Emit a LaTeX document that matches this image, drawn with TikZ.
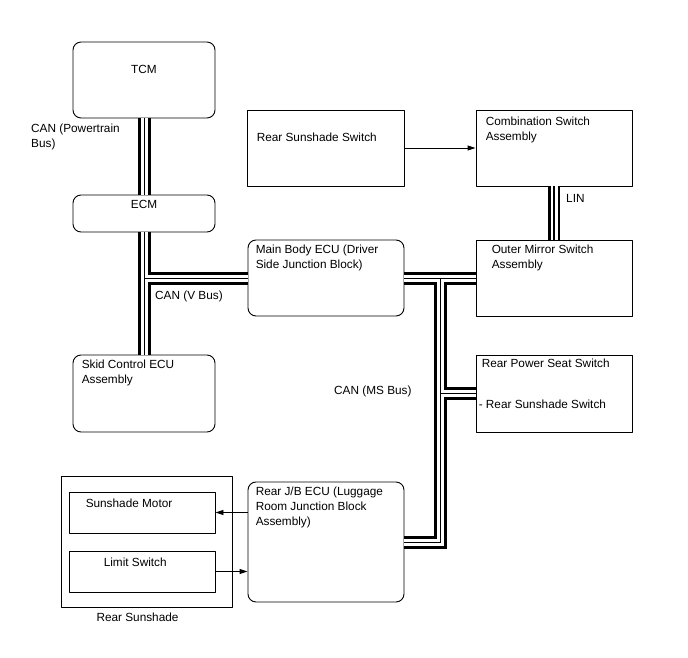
\documentclass[tikz,border=0pt]{standalone}
\usepackage{fontspec}
\setmainfont{Liberation Sans}
\usepackage{tikz}
\usetikzlibrary{arrows.meta,calc,positioning}
\tikzset{
  unit/.style={draw, line width=.9pt, inner sep=0pt},
  ecu/.style={unit, rounded corners=8pt},
  switchbox/.style={unit},
  boxsize/.style 2 args={minimum width=#1pt, minimum height=#2pt},
  txt/.style={font=\fontsize{11.8}{15}\selectfont, align=left,
    inner sep=0pt, anchor=base west},
  sig/.style={line width=.9pt, -{Triangle[length=8pt,width=5pt]}},
  buswire/.style={line cap=butt, line join=miter},
}

\begin{document}
\begin{tikzpicture}[x=1pt, y=-1pt, line cap=round, line join=round]
  \useasboundingbox (0,0) rectangle (688,658);

  % Powertrain and chassis ECUs on the left.
  \node[ecu, boxsize={142}{76}] (tcm) at (144,80) {};
  \node[ecu, boxsize={142}{37}] (ecm) at (144,213.5) {};
  \node[ecu, boxsize={142}{77}] (skid) at (144,393.5) {};

  % Body side: switches are square, ECUs rounded.
  \node[switchbox, boxsize={157}{76}] (rsswitch) at (325.5,148) {};
  \node[switchbox, boxsize={156}{76}] (combsw) at (554,148) {};
  \node[ecu, boxsize={156}{76}] (mbecu) at (326,278) {};
  \node[switchbox, boxsize={156}{76}] (mirror) at (554,278) {};
  \node[switchbox, boxsize={156}{77}] (seat) at (554,393.5) {};
  \node[ecu, boxsize={156}{120}] (rjb) at (326,542) {};

  % The sunshade frame holds its motor and limit switch.
  \node[switchbox, boxsize={171}{131}] (sunshade) at (146.5,541.5) {};
  \node[switchbox, boxsize={146}{41}] (motor) at (142,512.5) {};
  \node[switchbox, boxsize={146}{41}] (limit) at (142,571.5) {};

  % Every CAN wire gets its outer stroke first, then the white gap, then the
  % centre wire, so the branches merge into clean T-junctions.
  \coordinate (vjoint) at (ecm.south |- mbecu.west);
  \coordinate (msjoint) at ($(mbecu.east)!.5!(mirror.west)$);
  \foreach \buswidth/\buscolor in {13/black, 7/white, 1/black}{
    \draw[buswire, line width=\buswidth pt, color=\buscolor]
      (tcm.south) -- (ecm.north)
      (ecm.south) -- (skid.north)
      (vjoint) -- (mbecu.west)
      (mbecu.east) -- (mirror.west)
      (msjoint) -- (msjoint |- rjb.east) -- (rjb.east)
      (msjoint |- seat.west) -- (seat.west);
  }

  % The LIN wire has a heavier core.
  \foreach \buswidth/\buscolor in {12/black, 7/white, 2.5/black}{
    \draw[buswire, line width=\buswidth pt, color=\buscolor]
      (combsw.south) -- (mirror.north);
  }

  \draw[sig] (rsswitch.east) -- (combsw.west);
  \draw[sig] (rjb.west |- motor.east) -- (motor.east);
  \draw[sig] (limit.east) -- (rjb.west |- limit.east);

  % A multi-line node sits on the baseline of its last line.
  \node[txt, anchor=base] (tcmtext) at ($(tcm.north)+(0,32)$) {TCM};
  \node[txt, anchor=base] (ecmtext) at ($(ecm.north)+(0,14)$) {ECM};
  \node[txt] (skidtext) at ($(skid.north west)+(9,29)$)
    {Skid Control ECU\\Assembly};
  \node[txt] (rsswitchtext) at ($(rsswitch.north west)+(10,32)$)
    {Rear Sunshade Switch};
  \node[txt] (combswtext) at ($(combsw.north west)+(10,31)$)
    {Combination Switch\\Assembly};
  \node[txt] (mbecutext) at ($(mbecu.north west)+(8,29)$)
    {Main Body ECU (Driver\\Side Junction Block)};
  \node[txt] (mirrortext) at ($(mirror.north west)+(16,29)$)
    {Outer Mirror Switch\\Assembly};
  \node[txt] (seattext) at ($(seat.north west)+(6,13)$)
    {Rear Power Seat Switch};
  \node[txt] (seatsubtext) at ($(seat.north west)+(3,54)$)
    {- Rear Sunshade Switch};
  \node[txt] (rjbtext) at ($(rjb.north west)+(8,44)$)
    {Rear J/B ECU (Luggage\\Room Junction Block\\Assembly)};
  \node[txt] (motortext) at ($(motor.north west)+(17,16)$) {Sunshade Motor};
  \node[txt] (limittext) at ($(limit.north west)+(35,16)$) {Limit Switch};
  \node[txt, anchor=base] (sunshadetext) at ($(sunshade.south)+(-9,14)$)
    {Rear Sunshade};

  % Bus names sit beside their wires.
  \node[txt] (ptbus) at (31,147) {CAN (Powertrain\\Bus)};
  \node[txt] (vbus) at (155,299) {CAN (V Bus)};
  \node[txt] (linbus) at (566,202) {LIN};
  \node[txt] (msbus) at (334,394) {CAN (MS Bus)};
\end{tikzpicture}
\end{document}
